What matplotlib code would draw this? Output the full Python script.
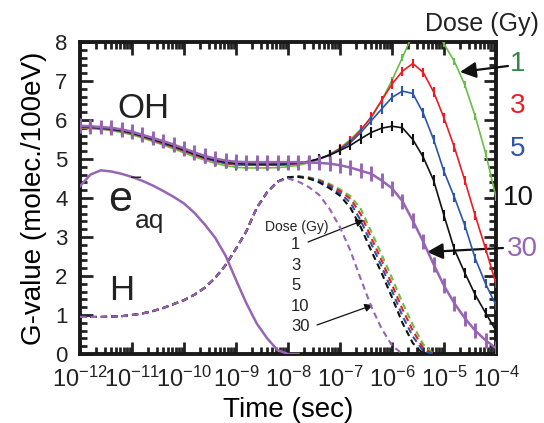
import numpy as np
import matplotlib
matplotlib.use('Agg')
import matplotlib.pyplot as plt
from matplotlib.ticker import MultipleLocator, LogLocator, NullFormatter

plt.rcParams['font.family'] = ['Liberation Sans', 'DejaVu Sans']
plt.rcParams['mathtext.default'] = 'regular'

W, H = 544, 423

# time grid, log10(sec), every 0.2 decade
log_t = np.linspace(-12, -4, 41)
time = 10 ** log_t

doses = ['1', '3', '5', '10', '30']
colors = ['#6abd45', '#ed1c24', '#2b55a8', '#111111', '#9765b4']
label_colors = ['#2e8a46', '#ed1c24', '#2b55a8', '#111111', '#9765b4']

# G(OH) per dose
oh_1 = [5.80, 5.78, 5.76, 5.73, 5.68, 5.62, 5.54, 5.45, 5.36, 5.26, 5.16, 5.06, 4.97, 4.89, 4.83, 4.79, 4.77, 4.77, 4.77, 4.78, 4.80,
        4.84, 4.90, 4.99, 5.12, 5.28, 5.50, 5.76, 6.05, 6.50, 7.02, 7.60, 8.20, 8.60, 8.55, 7.95, 7.50, 6.90, 6.10, 5.15, 4.02]
oh_3 = [5.81, 5.80, 5.78, 5.75, 5.71, 5.65, 5.57, 5.48, 5.39, 5.30, 5.20, 5.10, 5.01, 4.94, 4.88, 4.85, 4.84, 4.84, 4.84, 4.84, 4.85,
        4.88, 4.93, 5.00, 5.11, 5.26, 5.46, 5.74, 6.08, 6.50, 6.92, 7.25, 7.45, 7.22, 6.72, 6.05, 5.30, 4.45, 3.55, 2.70, 1.80]
oh_5 = [5.82, 5.81, 5.79, 5.76, 5.72, 5.66, 5.58, 5.50, 5.41, 5.32, 5.22, 5.12, 5.03, 4.95, 4.90, 4.87, 4.86, 4.86, 4.86, 4.86, 4.87,
        4.89, 4.93, 5.00, 5.10, 5.25, 5.42, 5.68, 5.98, 6.28, 6.58, 6.74, 6.68, 6.18, 5.50, 4.68, 4.02, 3.30, 2.45, 1.80, 1.25]
oh_10 = [5.83, 5.82, 5.80, 5.77, 5.73, 5.67, 5.59, 5.51, 5.42, 5.33, 5.23, 5.13, 5.04, 4.97, 4.92, 4.89, 4.88, 4.87, 4.87, 4.87, 4.88,
         4.90, 4.94, 5.01, 5.10, 5.22, 5.35, 5.52, 5.68, 5.79, 5.84, 5.80, 5.50, 5.05, 4.45, 3.55, 2.68, 2.08, 1.52, 1.05, 0.60]
oh_30 = [5.85, 5.84, 5.82, 5.80, 5.76, 5.70, 5.62, 5.54, 5.46, 5.37, 5.27, 5.17, 5.08, 5.01, 4.96, 4.93, 4.92, 4.92, 4.92, 4.92, 4.92,
         4.92, 4.91, 4.90, 4.88, 4.84, 4.78, 4.70, 4.62, 4.45, 4.25, 3.92, 3.42, 2.88, 2.30, 1.75, 1.30, 0.92, 0.60, 0.35, 0.15]
oh_err = [0.09, 0.12, 0.12, 0.13, 0.19]

# G(H): identical for all doses up to 1e-8 s
h_early = [0.95, 0.95, 0.95, 0.96, 0.97, 1.00, 1.04, 1.10, 1.18, 1.28, 1.38, 1.52, 1.70, 1.95, 2.28, 2.70, 3.15, 3.75, 4.15, 4.42]
h_1 = [4.53, 4.56, 4.53, 4.47, 4.36, 4.22, 4.05, 3.72, 3.14, 2.55, 1.95, 1.32, 0.75, 0.25, 0.0]
h_3 = [4.53, 4.55, 4.52, 4.45, 4.33, 4.18, 3.98, 3.58, 2.98, 2.40, 1.78, 1.15, 0.60, 0.15, 0.0]
h_5 = [4.53, 4.55, 4.51, 4.43, 4.30, 4.12, 3.88, 3.42, 2.83, 2.25, 1.62, 0.98, 0.45, 0.08, 0.0]
h_10 = [4.53, 4.54, 4.50, 4.40, 4.25, 4.06, 3.75, 3.25, 2.65, 2.08, 1.45, 0.80, 0.28, 0.0]
h_30 = [4.50, 4.42, 4.28, 4.08, 3.72, 3.25, 2.65, 1.92, 1.22, 0.65, 0.22, 0.0]

# G(e-aq), same for all doses
eaq = [4.30, 4.60, 4.71, 4.68, 4.62, 4.54, 4.44, 4.32, 4.18, 4.03, 3.86, 3.62, 3.32, 2.98, 2.52, 1.90, 1.30, 0.78, 0.40, 0.10, 0.0, 0.0]

oh_all = [oh_1, oh_3, oh_5, oh_10, oh_30]
h_all = [h_1, h_3, h_5, h_10, h_30]

fig = plt.figure(figsize=(W / 100, H / 100), dpi=100)
ax = fig.add_axes([80 / W, 1 - 354 / H, 416 / W, 312 / H])

for i in range(5):
    lw = 1.8 if i == 4 else 1.2
    ax.errorbar(time, oh_all[i], yerr=oh_err[i], color=colors[i], lw=lw,
                elinewidth=lw + 0.3, capsize=0, zorder=3 + i)

for i in range(5):
    hv = h_early + h_all[i]
    ax.plot(time[:len(hv)], hv, color=colors[i], lw=1.5, ls=(0, (3, 2)), zorder=3 + i)

ax.plot(time[:len(eaq)], eaq, color=colors[4], lw=1.8, zorder=9)

ax.set_xscale('log')
ax.set_xlim(1e-12, 1e-4)
ax.set_ylim(0, 8)
ax.xaxis.set_major_locator(LogLocator(base=10, numticks=20))
ax.xaxis.set_minor_locator(LogLocator(base=10, subs=np.arange(2, 10), numticks=20))
ax.xaxis.set_minor_formatter(NullFormatter())
ax.yaxis.set_major_locator(MultipleLocator(1))
ax.yaxis.set_minor_locator(MultipleLocator(0.2))
ax.tick_params(which='both', direction='in', top=True, right=True, width=2, colors='#222222')
ax.tick_params(which='major', length=9)
ax.tick_params(which='minor', length=5)
ax.tick_params(axis='x', labelsize=17, pad=9)
ax.tick_params(axis='y', labelsize=16, pad=9)
for s in ax.spines.values():
    s.set_linewidth(2.8)
    s.set_color('#1a1a1a')

ax.set_xlabel('Time (sec)', fontsize=20, labelpad=4)
ax.set_ylabel('G-value (molec./100eV)', fontsize=20, labelpad=6)


def fx(px):
    return px / W


def fy(py):
    return 1 - py / H


tc = '#222222'
fig.text(fx(143), fy(108), 'OH', fontsize=25, ha='center', va='center', color=tc)
fig.text(fx(120), fy(200), 'e', fontsize=31, ha='center', va='center', color=tc)
fig.text(fx(136), fy(178), '\u2212', fontsize=15, ha='center', va='center', color=tc)
fig.text(fx(150), fy(221), 'aq', fontsize=19, ha='center', va='center', color=tc)
fig.text(fx(122), fy(291), 'H', fontsize=25, ha='center', va='center', color=tc)

fig.text(fx(482), fy(24), 'Dose (Gy)', fontsize=18, ha='center', va='center', color=tc)
big_y = [64, 106, 149, 198, 249]
for i in range(5):
    fig.text(fx(518 if i < 4 else 522), fy(big_y[i]), doses[i], fontsize=20,
             ha='center', va='center', color=label_colors[i])

big_arrow = dict(arrowstyle='-|>', lw=1.6, color='#111111', mutation_scale=24, shrinkA=0, shrinkB=0)
ax.annotate('', xy=(fx(460), fy(72)), xytext=(fx(508), fy(66)),
            xycoords='figure fraction', textcoords='figure fraction', arrowprops=big_arrow)
ax.annotate('', xy=(fx(427), fy(252)), xytext=(fx(503), fy(248)),
            xycoords='figure fraction', textcoords='figure fraction', arrowprops=big_arrow)

fig.text(fx(265), fy(227), 'Dose (Gy)', fontsize=10, ha='left', va='center', color=tc)
small_y = [244, 265, 285, 306, 326]
for i in range(5):
    fig.text(fx(291), fy(small_y[i]), doses[i], fontsize=12, ha='left', va='center', color=tc)

small_arrow = dict(arrowstyle='-|>', lw=0.9, color='#111111', mutation_scale=12, shrinkA=0, shrinkB=0)
ax.annotate('', xy=(fx(364), fy(220)), xytext=(fx(308), fy(242)),
            xycoords='figure fraction', textcoords='figure fraction', arrowprops=small_arrow)
ax.annotate('', xy=(fx(373), fy(305)), xytext=(fx(317), fy(325)),
            xycoords='figure fraction', textcoords='figure fraction', arrowprops=small_arrow)

fig.savefig('out.png', dpi=100)
